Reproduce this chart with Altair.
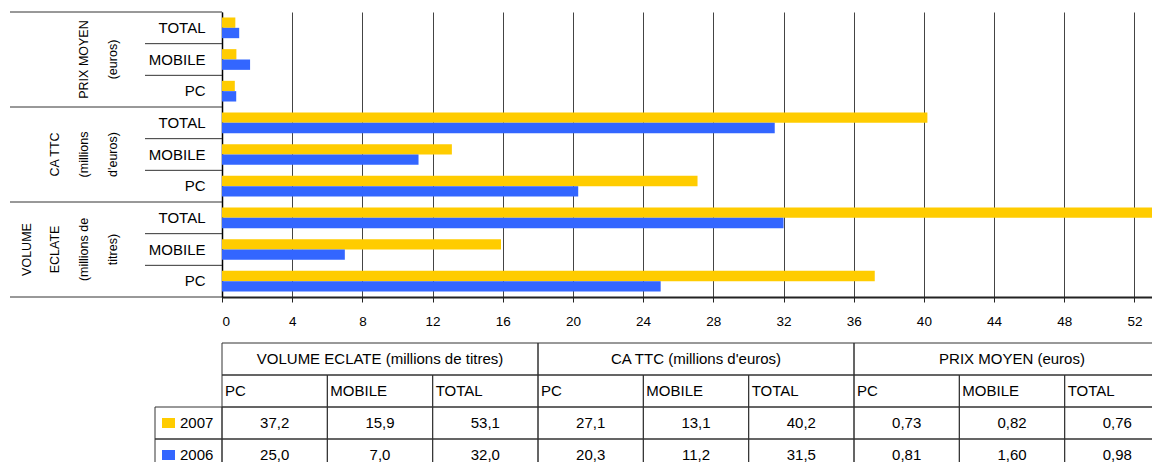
import altair as alt
import pandas as pd

FONT = "Liberation Sans"

# ---------------- data ----------------
chart_groups = ["PRIX MOYEN", "CA TTC", "VOLUME ECLATE"]  # top to bottom
chart_group_title_lines = [["PRIX MOYEN", "(euros)"],
                           ["CA TTC", "(millions", "d'euros)"],
                           ["VOLUME", "ECLATE", "(millions de", "titres)"]]
chart_subs = ["TOTAL", "MOBILE", "PC"]  # top to bottom inside a group
years = ["2007", "2006"]
year_colors = ["#FFCC00", "#3366FF"]

value_subs = ["PC", "MOBILE", "TOTAL"]  # order of the value lists below
volume_2007 = [37.2, 15.9, 53.1]
volume_2006 = [25.0, 7.0, 32.0]
ca_2007 = [27.1, 13.1, 40.2]
ca_2006 = [20.3, 11.2, 31.5]
prix_2007 = [0.73, 0.82, 0.76]
prix_2006 = [0.81, 1.60, 0.98]

table_groups = ["VOLUME ECLATE", "CA TTC", "PRIX MOYEN"]
table_titles = ["VOLUME ECLATE (millions de titres)", "CA TTC (millions d'euros)",
                "PRIX MOYEN (euros)"]
table_decimals = [1, 1, 2]

x_ticks = [0, 4, 8, 12, 16, 20, 24, 28, 32, 36, 40, 44, 48, 52]

series = {
    "VOLUME ECLATE": {"2007": volume_2007, "2006": volume_2006},
    "CA TTC": {"2007": ca_2007, "2006": ca_2006},
    "PRIX MOYEN": {"2007": prix_2007, "2006": prix_2006},
}

# ---------------- derived tables ----------------
row_order = [f"{g}|{s}" for g in chart_groups for s in chart_subs]

bar_rows = []
for g in chart_groups:
    for y in years:
        for s, v in zip(value_subs, series[g][y]):
            bar_rows.append({"key": f"{g}|{s}", "year": y, "value": v})
bars_df = pd.DataFrame(bar_rows)

short_df = pd.DataFrame({"key": [f"{g}|{s}" for g in chart_groups for s in chart_subs if s != "TOTAL"]})
long_df = pd.DataFrame({"key": [f"{g}|TOTAL" for g in chart_groups]})
bottom_df = pd.DataFrame({"key": [row_order[-1]]})

glabel_rows = []
for g, lines in zip(chart_groups, chart_group_title_lines):
    n = len(lines)
    for i, line in enumerate(lines):
        glabel_rows.append({"key": f"{g}|MOBILE", "label": line, "k": n - 1 - i})
glabel_df = pd.DataFrame(glabel_rows)

col_order = [f"{g}|{s}" for g in table_groups for s in value_subs]
row_keys = ["h1", "h2"] + years

cells_df = pd.DataFrame([{"col": c, "row": r} for r in ["h2"] + years for c in col_order])
h1_df = pd.DataFrame({"col": [f"{g}|MOBILE" for g in table_groups], "row": "h1", "text": table_titles})
h2_df = pd.DataFrame({"col": col_order, "row": "h2", "text": [s for g in table_groups for s in value_subs]})
val_rows = []
for g, d in zip(table_groups, table_decimals):
    for y in years:
        for s, v in zip(value_subs, series[g][y]):
            val_rows.append({"col": f"{g}|{s}", "row": y, "text": f"{v:.{d}f}".replace(".", ",")})
val_df = pd.DataFrame(val_rows)
legend_df = pd.DataFrame({"row": years})

# ---------------- main chart ----------------
LINE = "#333333"
y_scale = alt.Scale(domain=row_order, paddingInner=0, paddingOuter=0)
y_axis = alt.Axis(title=None, labelExpr="split(datum.value, '|')[1]", ticks=False, tickSize=0,
                  domainColor="#000000", domainWidth=1.5, labelPadding=17, labelFontSize=15,
                  labelColor="#000000", labelFont=FONT, grid=False)


def ykey(**kw):
    return alt.Y("key:N", scale=y_scale, axis=y_axis, **kw)


color_scale = alt.Scale(domain=years, range=year_colors)

x_axis = alt.Axis(values=x_ticks, grid=True, gridColor="#444444", gridWidth=1, domainColor="#222222",
                  domainWidth=2, tickColor="#222222", tickSize=5, labelFontSize=13.5, labelPadding=12,
                  labelColor="#000000", labelFont=FONT, title=None, format="d")

bars = alt.Chart(bars_df).mark_bar().encode(
    x=alt.X("value:Q", scale=alt.Scale(domain=[0, 53], nice=False, zero=True), axis=x_axis),
    y=ykey(),
    yOffset=alt.YOffset("year:N", sort=years,
                        scale=alt.Scale(domain=years, paddingInner=0, paddingOuter=0.53)),
    color=alt.Color("year:N", scale=color_scale, legend=None),
)

short_rules = alt.Chart(short_df).mark_rule(color=LINE, strokeWidth=1).encode(
    y=ykey(bandPosition=0), x=alt.value(-77), x2=alt.value(0))
long_rules = alt.Chart(long_df).mark_rule(color=LINE, strokeWidth=1).encode(
    y=ykey(bandPosition=0), x=alt.value(-212), x2=alt.value(0))
bottom_rule = alt.Chart(bottom_df).mark_rule(color=LINE, strokeWidth=1).encode(
    y=ykey(bandPosition=1), x=alt.value(-212), x2=alt.value(0))

# column of each rotated title line, counted from the right-most line
line_cols = [-109, -138, -167, -195]
group_label_layers = [
    alt.Chart(glabel_df).transform_filter(alt.datum.k == k).mark_text(
        angle=270, baseline="middle", align="center", fontSize=12.5, font=FONT,
        color="#000000").encode(y=ykey(), x=alt.value(xv), text="label:N")
    for k, xv in enumerate(line_cols)
]

main = alt.layer(bars, short_rules, long_rules, bottom_rule, *group_label_layers)

# ---------------- table ----------------
tx_scale = alt.Scale(domain=col_order, range=[0, 948], paddingInner=0, paddingOuter=0)
ty_scale = alt.Scale(domain=row_keys, range=[331, 459], paddingInner=0, paddingOuter=0)


def tx(**kw):
    return alt.X("col:N", scale=tx_scale, axis=None, **kw)


def ty(**kw):
    return alt.Y("row:N", scale=ty_scale, axis=None, **kw)


cells = alt.Chart(cells_df).mark_rect(filled=False, stroke=LINE, strokeWidth=1).encode(x=tx(), y=ty())
h1_cells = alt.Chart(h1_df).mark_rect(filled=False, stroke=LINE, strokeWidth=1, width=316).encode(x=tx(), y=ty())
h1_text = alt.Chart(h1_df).mark_text(fontSize=15, font=FONT, color="#000000").encode(
    x=tx(), y=ty(), text="text:N")
h2_text = alt.Chart(h2_df).mark_text(fontSize=15, font=FONT, color="#000000", align="left", dx=3).encode(
    x=tx(bandPosition=0), y=ty(), text="text:N")
val_text = alt.Chart(val_df).mark_text(fontSize=15, font=FONT, color="#000000").encode(
    x=tx(), y=ty(), text="text:N")
legend_cells = alt.Chart(legend_df).mark_rect(filled=False, stroke=LINE, strokeWidth=1).encode(
    x=alt.value(-67), x2=alt.value(0), y=ty())
legend_swatch = alt.Chart(legend_df).mark_rect(height=10).encode(
    x=alt.value(-60), x2=alt.value(-47), y=ty(),
    color=alt.Color("row:N", scale=color_scale, legend=None))
legend_text = alt.Chart(legend_df).mark_text(fontSize=15, font=FONT, color="#000000", align="left").encode(
    x=alt.value(-42), y=ty(), text="row:N")

table = alt.layer(cells, h1_cells, h1_text, h2_text, val_text, legend_cells, legend_swatch, legend_text)

chart = alt.layer(main, table).resolve_scale(x="independent", y="independent").properties(
    width=930, height=285,
    autosize=alt.AutoSizeParams(type="none"),
    padding={"left": 214, "top": 4, "right": 0, "bottom": 165},
    background="white",
).configure_view(stroke=None)

chart.save("out.html", embed_options={"renderer": "svg", "actions": False})
